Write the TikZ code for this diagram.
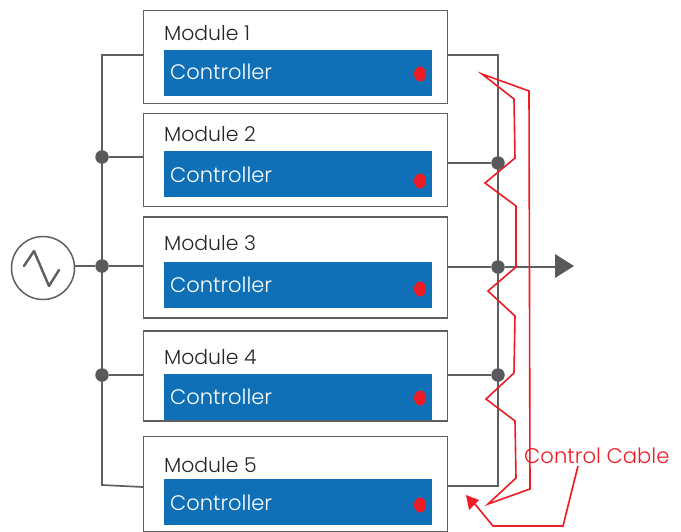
\documentclass[tikz,border=0pt]{standalone}
\usepackage{fontspec}
\setmainfont{Poppins}[UprightFont={* Light}]
\definecolor{wire}{HTML}{5F5F5F}
\definecolor{dotc}{HTML}{58595B}
\definecolor{blueb}{HTML}{0F70B7}
\definecolor{redc}{HTML}{ED1C24}
\tikzset{
  x=1pt,y=-1pt,
  modbox/.style={draw=wire,line width=1.8pt,fill=white},
  ctrl/.style={fill=blueb,draw=none},
  wireline/.style={draw=wire,line width=1.7pt},
  bus/.style={draw=wire,line width=2.4pt},
  junction/.style={circle,fill=dotc,draw=none,minimum size=13.5pt,inner sep=0pt},
  leddot/.style={ellipse,fill=redc,draw=none,minimum width=12pt,minimum height=15pt,inner sep=0pt},
  redl/.style={draw=redc,line width=1.6pt,line join=miter},
  modlabel/.style={anchor=base west,inner sep=0pt,font=\fontsize{20.4}{24}\selectfont,text=black!85},
  ctrllabel/.style={anchor=base west,inner sep=0pt,font=\fontsize{21}{25}\selectfont,text=white},
}
\usetikzlibrary{shapes.geometric}
\begin{document}
\begin{tikzpicture}
\useasboundingbox (0,0) rectangle (681,531);
% coordinates
\coordinate (Ltop) at (102,55);
\coordinate (Lbot) at (102,485);
\coordinate (Rtop) at (498,55);
\coordinate (Rbot) at (498,486);
% wires behind
\draw[wireline] (143,55) -- (Ltop) -- (Lbot) -- (143,487);
\draw[bus] (447,55) -- (Rtop) -- (Rbot) -- (445,486);
% modules
\node[modbox,minimum width=304pt,minimum height=93pt,inner sep=0pt,anchor=north west] (m1) at (142.5,9.5) {};
\node[modbox,minimum width=304pt,minimum height=93pt,inner sep=0pt,anchor=north west] (m2) at (142.5,112.5) {};
\node[modbox,minimum width=304pt,minimum height=101pt,inner sep=0pt,anchor=north west] (m3) at (142.5,216) {};
\node[modbox,minimum width=304pt,minimum height=90pt,inner sep=0pt,anchor=north west] (m4) at (142.5,330) {};
\node[modbox,minimum width=304pt,minimum height=95pt,inner sep=0pt,anchor=north west] (m5) at (142.5,435.5) {};
\foreach \n/\t/\ly/\cy/\dy in {1/50/40.5/79/74,2/151/141.5/182/181,3/262/250.5/292/289,4/374/364.5/404/398,5/479/472.5/510/505}{
  \node[ctrl,anchor=north west,minimum width=268pt,minimum height=46pt,inner sep=0pt] (c\n) at (164,\t) {};
  \node[modlabel] (ml\n) at (164,\ly) {Module \n};
  \node[ctrllabel] (cl\n) at (170,\cy) {Controller};
  \node[leddot] (d\n) at (420,\dy) {};
}
% source
\node[circle,draw=wire,line width=1.5pt,minimum size=63pt,inner sep=0pt] (src) at (43,268) {};
\draw[draw=wire,line width=2.4pt,line cap=round,line join=round] (24,266) -- (34,251) -- (49,286) -- (59,270);
% junctions
\node[junction] (jl2) at (102,157) {};
\node[junction] (jl3) at (102,266) {};
\node[junction] (jl4) at (102,375) {};
\node[junction] (jr2) at (498,163) {};
\node[junction] (jr3) at (498,267) {};
\node[junction] (jr4) at (498,375) {};
% branch wires
\draw[wireline] (75,266) -- (jl3) -- (143,266);
\draw[wireline] (jl2) -- (143,157);
\draw[wireline] (jl4) -- (143,375);
\draw[wireline] (447,163) -- (jr2);
\draw[wireline] (447,375) -- (jr4);
\coordinate (tipb) at (555,267);
\draw[wireline] (447,267) -- (jr3) -- (tipb);
\fill[dotc] (555,254) -- (574,266) -- (555,278) -- cycle;
% red cables
\coordinate (ra) at (482,74);
\coordinate (rb) at (488,504);
\draw[redl] (rb) -- (530,489) -- (529,91) -- (ra)
  -- (514,99) -- (515,158) -- (485,183) -- (516,206) -- (516,267) -- (488,291)
  -- (515,316) -- (514,373) -- (486,399) -- (515,421) -- (516,478) -- cycle;
% label
\node[anchor=base west,inner sep=0pt,text=redc,font=\fontsize{21.1}{25}\selectfont] (cc) at (524,463) {Control Cable};
\draw[redl] (578,466) -- (563,526) -- (493,526) -- (474,503);
\fill[redc] (466,495) -- (479,500) -- (469,510) -- cycle;
\end{tikzpicture}
\end{document}
